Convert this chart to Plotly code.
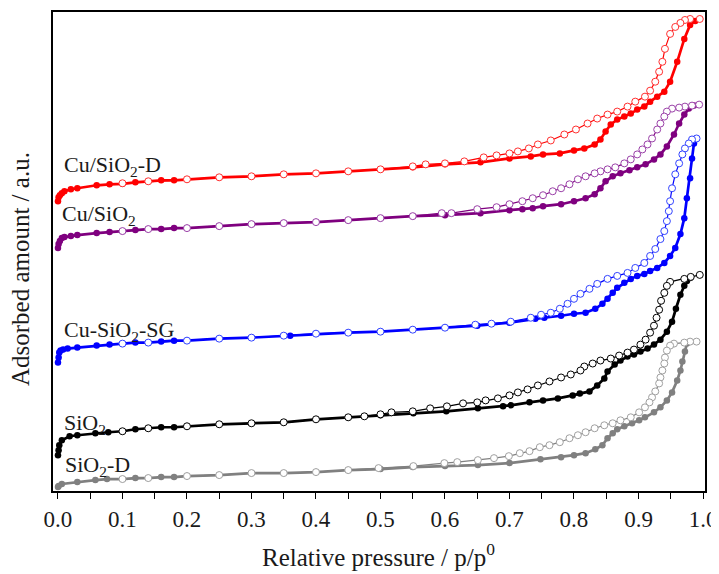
import plotly.graph_objects as go

# ---------------- data (relative pressure p/p0, adsorbed amount in a.u.) ----------------
# Cu/SiO2-D (red)
red_ads_p = [0.0, 0.001, 0.003, 0.006, 0.01, 0.02, 0.03, 0.06, 0.08, 0.1, 0.12, 0.14, 0.16, 0.18, 0.2,
             0.25, 0.3, 0.35, 0.4, 0.45, 0.5, 0.55, 0.6, 0.655, 0.7, 0.733, 0.752, 0.778, 0.8, 0.816,
             0.832, 0.841, 0.849, 0.857, 0.867, 0.878, 0.888, 0.898, 0.909, 0.918, 0.929, 0.94,
             0.949, 0.96, 0.971, 0.98, 0.988]
red_ads_y = [291, 295, 297, 299, 301, 303, 304, 307, 308, 308.5, 310, 311, 312, 312, 313,
             315, 316, 318, 319, 321, 323, 325, 328, 330, 334, 336, 338, 339, 342, 344,
             348, 353, 361, 368, 373, 376, 379, 383, 386, 391, 396, 401,
             411, 431, 454, 468, 472]
red_des_p = [0.995, 0.98, 0.972, 0.965, 0.957, 0.949, 0.941, 0.937, 0.932, 0.926, 0.918, 0.91,
             0.895, 0.883, 0.867, 0.852, 0.836, 0.821, 0.803, 0.785, 0.764, 0.744, 0.73, 0.713,
             0.7, 0.68, 0.66, 0.63, 0.6, 0.57, 0.55, 0.5, 0.45, 0.4, 0.35, 0.3, 0.25, 0.2, 0.14, 0.1]
red_des_y = [474, 474, 473, 470, 466, 459, 444, 431, 421, 411, 402, 396,
             391, 386, 381, 378, 374, 369, 363, 358, 352, 348, 344, 341,
             339, 337, 335, 331, 329, 328, 326, 323, 321, 319, 318, 316, 315, 313, 311, 309]

# Cu/SiO2 (purple)
pur_ads_p = [0.0, 0.001, 0.003, 0.006, 0.01, 0.02, 0.03, 0.06, 0.08, 0.1, 0.12, 0.14, 0.16, 0.18, 0.2,
             0.25, 0.3, 0.35, 0.4, 0.45, 0.5, 0.55, 0.6, 0.655, 0.7, 0.72, 0.736, 0.752, 0.78, 0.8,
             0.818, 0.832, 0.841, 0.849, 0.86, 0.872, 0.886, 0.898, 0.911, 0.924, 0.934, 0.944,
             0.955, 0.963, 0.971, 0.978, 0.986]
pur_ads_y = [244, 248, 251, 254, 255, 256, 257, 259, 260, 261, 262, 263, 263, 264, 264,
             266, 268, 269, 270, 272, 274, 276, 277, 279, 282, 283, 284, 286, 288, 291,
             294, 298, 304, 311, 316, 319, 322, 325, 328, 333, 338, 346,
             358, 369, 378, 384, 387]
pur_des_p = [0.994, 0.983, 0.972, 0.963, 0.952, 0.944, 0.94, 0.934, 0.929, 0.921, 0.914, 0.906,
             0.898, 0.888, 0.878, 0.864, 0.852, 0.841, 0.832, 0.818, 0.806, 0.793, 0.78, 0.767,
             0.752, 0.736, 0.72, 0.7, 0.68, 0.65, 0.61, 0.595, 0.55, 0.5, 0.45, 0.4, 0.35, 0.3,
             0.25, 0.2, 0.14, 0.1]
pur_des_y = [388, 387, 386, 385, 384, 381, 376, 369, 363, 354, 348, 343,
             338, 333, 329, 325, 323, 321, 319, 316, 313, 308, 304, 301,
             297, 294, 291, 288, 285, 283, 279, 279, 276, 274, 272, 270, 269, 268,
             266, 264, 263, 261]

# Cu-SiO2-SG (blue)
blu_ads_p = [0.0, 0.001, 0.002, 0.004, 0.008, 0.015, 0.03, 0.06, 0.08, 0.1, 0.12, 0.14, 0.16, 0.18,
             0.2, 0.25, 0.3, 0.36, 0.4, 0.45, 0.5, 0.55, 0.6, 0.65, 0.7, 0.74, 0.754, 0.78, 0.8,
             0.818, 0.833, 0.844, 0.852, 0.86, 0.867, 0.878, 0.888, 0.898, 0.909, 0.918, 0.929,
             0.94, 0.949, 0.957, 0.965, 0.971, 0.975, 0.98, 0.983, 0.986, 0.988]
blu_ads_y = [129, 134, 139, 141, 142, 143, 144, 146, 147, 148, 149, 149, 150, 151,
             151, 153, 154, 156, 158, 159, 160, 162, 164, 166, 169, 173, 174, 176, 178,
             179, 183, 188, 193, 199, 204, 209, 213, 216, 218, 221, 224,
             229, 236, 244, 258, 274, 294, 314, 334, 349, 353]
blu_des_p = [0.99, 0.983, 0.978, 0.972, 0.968, 0.963, 0.957, 0.952, 0.949, 0.947, 0.944, 0.94,
             0.934, 0.926, 0.918, 0.909, 0.895, 0.883, 0.867, 0.852, 0.836, 0.824, 0.81, 0.8,
             0.79, 0.778, 0.764, 0.749, 0.733, 0.702, 0.672, 0.647, 0.6, 0.55, 0.5, 0.45, 0.4,
             0.35, 0.3, 0.25, 0.2, 0.14, 0.1]
blu_des_y = [354, 353, 349, 344, 338, 329, 318, 304, 291, 281, 271, 261,
             253, 243, 236, 229, 224, 219, 216, 213, 208, 203, 198, 193,
             188, 183, 179, 177, 174, 170, 168, 167, 164, 162, 160, 159, 158,
             156, 154, 153, 151, 149, 148]

# SiO2 (black)
blk_ads_p = [0.0, 0.001, 0.002, 0.006, 0.018, 0.03, 0.058, 0.078, 0.1, 0.12, 0.14, 0.16, 0.18, 0.2,
             0.25, 0.3, 0.35, 0.4, 0.45, 0.5, 0.551, 0.602, 0.651, 0.69, 0.702, 0.731, 0.752,
             0.775, 0.798, 0.809, 0.824, 0.836, 0.847, 0.852, 0.863, 0.872, 0.883, 0.893, 0.903,
             0.914, 0.924, 0.934, 0.944, 0.952, 0.958, 0.965, 0.971, 0.975, 0.98]
blk_ads_y = [36, 41, 46, 51, 55, 56, 58, 59, 60, 62, 63, 64, 64, 65,
             67, 68, 69, 72, 74, 76, 78, 80, 83, 85, 86, 89, 91,
             93, 96, 98, 100, 106, 113, 120, 127, 131, 135, 137, 140,
             143, 147, 152, 160, 170, 183, 197, 206, 211, 214]
blk_des_p = [0.995, 0.981, 0.971, 0.949, 0.944, 0.94, 0.935, 0.932, 0.928, 0.924, 0.918, 0.911,
             0.903, 0.893, 0.883, 0.87, 0.857, 0.841, 0.829, 0.816, 0.81, 0.795, 0.78, 0.762,
             0.744, 0.728, 0.713, 0.7, 0.682, 0.663, 0.65, 0.628, 0.603, 0.577, 0.55, 0.517,
             0.5, 0.475, 0.45, 0.4, 0.35, 0.3, 0.25, 0.2, 0.14, 0.1]
blk_des_y = [217, 215, 213, 210, 206, 199, 191, 182, 174, 166, 159, 152,
             147, 142, 139, 136, 133, 131, 128, 125, 121, 117, 114, 110,
             106, 102, 99, 96, 93, 91, 89, 88, 85, 83, 80, 79,
             77, 75, 74, 72, 69, 68, 67, 65, 63, 60]

# SiO2-D (grey)
gry_ads_p = [0.0, 0.001, 0.006, 0.03, 0.058, 0.076, 0.1, 0.12, 0.14, 0.16, 0.18, 0.2, 0.25, 0.3,
             0.35, 0.4, 0.45, 0.5, 0.55, 0.6, 0.651, 0.7, 0.748, 0.78, 0.8, 0.818, 0.833, 0.844,
             0.852, 0.86, 0.867, 0.878, 0.89, 0.901, 0.91, 0.924, 0.934, 0.944, 0.952, 0.96,
             0.965, 0.968, 0.972, 0.975]
gry_ads_y = [4, 5, 7, 9, 11, 12, 12, 13, 13, 14, 14, 15, 16, 18,
             18, 19, 21, 22, 24, 25, 26, 28, 32, 34, 36, 38, 42, 46,
             53, 58, 62, 65, 68, 71, 74, 79, 84, 91, 99, 111,
             121, 130, 140, 148]
gry_des_p = [0.99, 0.98, 0.971, 0.955, 0.949, 0.944, 0.941, 0.94, 0.937, 0.934, 0.932, 0.926,
             0.921, 0.917, 0.91, 0.901, 0.888, 0.872, 0.86, 0.847, 0.832, 0.818, 0.806, 0.793,
             0.778, 0.762, 0.747, 0.731, 0.716, 0.699, 0.676, 0.651, 0.619, 0.599, 0.551, 0.497,
             0.45, 0.4, 0.35, 0.3, 0.25, 0.2, 0.14, 0.1]
gry_des_y = [150, 150, 149, 148, 146, 141, 134, 128, 121, 114, 108, 100,
             94, 89, 84, 79, 74, 71, 68, 66, 63, 59, 56, 53,
             49, 46, 44, 40, 38, 35, 33, 31, 29, 28, 25, 23,
             21, 19, 18, 18, 16, 15, 13, 12]

labels = ["Cu/SiO<sub>2</sub>-D", "Cu/SiO<sub>2</sub>", "Cu-SiO<sub>2</sub>-SG",
          "SiO<sub>2</sub>", "SiO<sub>2</sub>-D"]
tick_labels = ["0.0", "0.1", "0.2", "0.3", "0.4", "0.5", "0.6", "0.7", "0.8", "0.9", "1.0"]

series = [
    (labels[0], "#ff0000", "#ff3030", red_ads_p, red_ads_y, red_des_p, red_des_y, 0.006, 326),
    (labels[1], "#7f007f", "#9a40a8", pur_ads_p, pur_ads_y, pur_des_p, pur_des_y, 0.003, 277),
    (labels[2], "#0000ff", "#3344ff", blu_ads_p, blu_ads_y, blu_des_p, blu_des_y, 0.006, 161),
    (labels[3], "#000000", "#000000", blk_ads_p, blk_ads_y, blk_des_p, blk_des_y, 0.006, 67),
    (labels[4], "#808080", "#a0a0a0", gry_ads_p, gry_ads_y, gry_des_p, gry_des_y, 0.008, 25),
]

FONT = "Liberation Serif"
TXT = "#1a1a1a"
fig = go.Figure()
for name, col, dcol, ap, ay, dp, dy, lx, ly in series:
    fig.add_trace(go.Scatter(
        x=ap, y=ay, mode="lines+markers", showlegend=False, hoverinfo="skip",
        line=dict(color=col, width=2.7),
        marker=dict(symbol="circle", size=6.5, color=col, line=dict(width=0))))
    fig.add_trace(go.Scatter(
        x=dp, y=dy, mode="lines+markers", showlegend=False, hoverinfo="skip",
        line=dict(color=col, width=1.2),
        marker=dict(symbol="circle", size=7, color="white", line=dict(color=dcol, width=1))))
    fig.add_annotation(x=lx, y=ly, xref="x", yref="y", text=name, showarrow=False,
                       xanchor="left", yanchor="middle",
                       font=dict(family=FONT, size=22, color=TXT))

tickvals = [round(i * 0.05, 2) for i in range(21)]
ticktext = [tick_labels[i // 2] if i % 2 == 0 else "" for i in range(21)]

# The page body has an 8px margin: the figure starts 8px right/down, so it is
# 8px smaller and its left/top margins are 8px smaller (right/bottom unchanged).
OFF = 8
fig.update_layout(
    width=719 - OFF, height=574 - OFF,
    margin=dict(l=53 - OFF, r=11, t=10 - OFF, b=83),
    paper_bgcolor="white", plot_bgcolor="white",
    font=dict(family=FONT, color=TXT),
    xaxis=dict(range=[-0.0077, 1.0031], tickvals=tickvals, ticktext=ticktext,
               ticks="outside", ticklen=6, tickwidth=1.3, tickcolor="black",
               showline=True, linecolor="black", linewidth=1.5, mirror=True,
               showgrid=False, zeroline=False,
               tickfont=dict(family=FONT, size=23, color=TXT),
               ticklabelstandoff=1, ticklabeloverflow="allow"),
    yaxis=dict(range=[0, 481], showticklabels=False, ticks="",
               showline=True, linecolor="black", linewidth=1.5, mirror=True,
               showgrid=False, zeroline=False),
)

# titles placed by window-pixel centres, converted to paper coordinates of the plot area
pl, pr, pt, pb = 53, 708, 10, 491
def to_paper(px, py):
    return (px - pl) / (pr - pl), (pb - py) / (pb - pt)

tx, ty = to_paper(380, 555)
fig.add_annotation(x=tx, y=ty, xref="paper", yref="paper", text="Relative pressure / p/p<sup>0</sup>",
                   showarrow=False, xanchor="center", yanchor="middle",
                   font=dict(family=FONT, size=25, color=TXT))
tx, ty = to_paper(21, 268)
fig.add_annotation(x=tx, y=ty, xref="paper", yref="paper", text="Adsorbed amount / a.u.",
                   textangle=-90, showarrow=False, xanchor="center", yanchor="middle",
                   font=dict(family=FONT, size=25, color=TXT))

fig.write_html("out.html")
